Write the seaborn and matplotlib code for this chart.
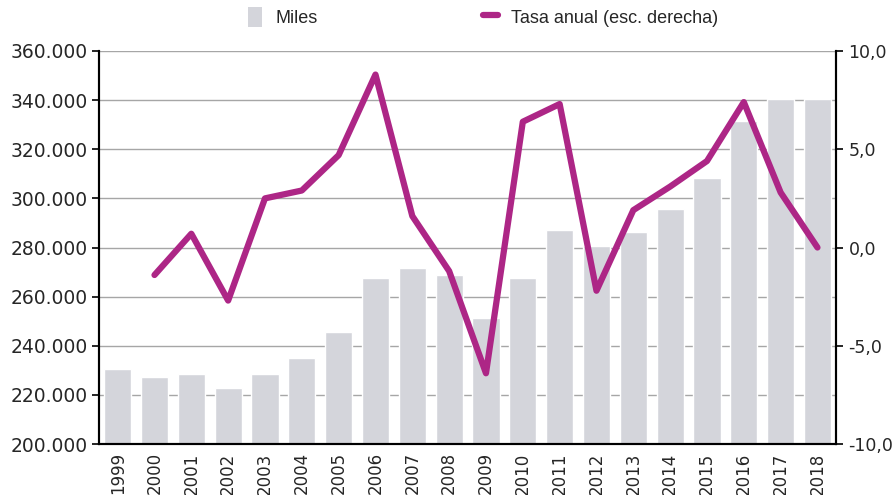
import numpy as np
import pandas as pd
import matplotlib
matplotlib.use('Agg')
import matplotlib.pyplot as plt
import matplotlib.ticker as mticker
from matplotlib.patches import Patch
from matplotlib.lines import Line2D
import seaborn as sns

# Data
years = [str(y) for y in range(1999, 2019)]
miles = [230500, 227300, 228500, 222800, 228500, 235000, 245600, 267600, 271700, 268800,
         251300, 267600, 287100, 280600, 286300, 295700, 308300, 331500, 340500, 340500]
tasa = [np.nan, -1.4, 0.7, -2.7, 2.5, 2.9, 4.7, 8.8, 1.6, -1.2,
        -6.4, 6.4, 7.3, -2.2, 1.9, 3.1, 4.4, 7.4, 2.8, 0.0]

bar_color = '#d4d5db'
line_color = '#ad2686'

df = pd.DataFrame({'Año': years, 'Miles': miles, 'Tasa': tasa})
df['pos'] = np.arange(len(df))

sns.set_style('white')
plt.rcParams['font.family'] = ['DejaVu Sans']

fig = plt.figure(figsize=(8.94, 4.95), dpi=100)
ax = fig.add_axes([0.111, 0.103, 0.824, 0.794])

sns.barplot(data=df, x='Año', y='Miles', color=bar_color, width=0.74,
            saturation=1, ax=ax, zorder=2)
ax.set_ylim(200000, 360000)
ax.set_xlim(-0.5, len(years) - 0.5)
ax.yaxis.set_major_locator(mticker.MultipleLocator(20000))
ax.yaxis.set_major_formatter(mticker.FuncFormatter(lambda v, p: f'{int(v):,}'.replace(',', '.')))
ax.grid(axis='y', color='#a6a6a6', linewidth=1, zorder=0)
ax.set_axisbelow(True)
ax.set_xlabel('')
ax.set_ylabel('')

# x ticks at category boundaries, labels centred
ax.set_xticks(np.arange(len(years)))
ax.set_xticklabels(years, rotation=90, fontsize=12)
ax.set_xticks(np.arange(-0.5, len(years)), minor=True)
ax.tick_params(axis='x', which='major', length=0, pad=6)
ax.tick_params(axis='x', which='minor', length=6, width=1.2, color='black', direction='out')
ax.tick_params(axis='y', labelsize=13.5, length=5, width=1.2, color='black', direction='out')

ax2 = ax.twinx()
sns.lineplot(data=df, x='pos', y='Tasa', color=line_color, linewidth=4.5, ax=ax2, zorder=3)
ax2.set_ylim(-10, 10)
ax2.yaxis.set_major_locator(mticker.MultipleLocator(5))
ax2.yaxis.set_major_formatter(mticker.FuncFormatter(lambda v, p: f'{v:.1f}'.replace('.', ',')))
ax2.tick_params(axis='y', labelsize=12.5, length=5, width=1.2, color='black', direction='out', pad=4)
ax2.set_ylabel('')
ax2.set_xlabel('')
ax2.grid(False)

for a in (ax, ax2):
    a.spines['top'].set_visible(False)
    for s in ['left', 'right', 'bottom']:
        a.spines[s].set_color('black')
        a.spines[s].set_linewidth(1.5)

handles = [Patch(facecolor=bar_color, edgecolor='none'),
           Line2D([0], [0], color=line_color, linewidth=4.5)]
fig.legend(handles, ['Miles', 'Tasa anual (esc. derecha)'], loc='center left',
           bbox_to_anchor=(248 / 894, 1 - 17 / 495), ncol=2, frameon=False,
           borderpad=0, borderaxespad=0,
           columnspacing=9.2, handlelength=0.8, handleheight=1.3, handletextpad=0.7,
           prop={'family': ['Liberation Sans', 'DejaVu Sans'], 'size': 13})

fig.savefig('out.png', dpi=100)
